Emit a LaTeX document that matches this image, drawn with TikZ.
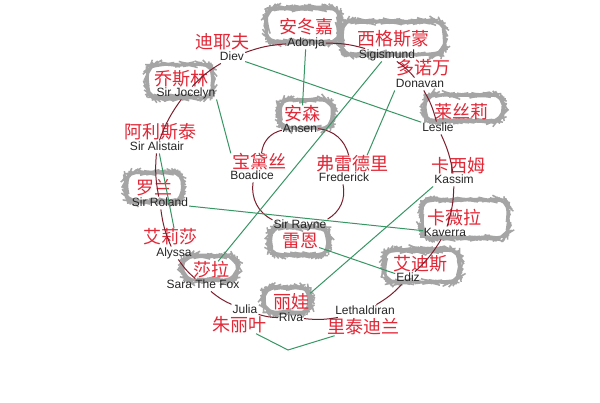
\documentclass[tikz,border=0pt]{standalone}
\usepackage{fontspec}
\setmainfont{Liberation Sans}
\newfontfamily\zhfont{Noto Sans CJK SC}
\usetikzlibrary{decorations.pathmorphing}

\definecolor{ringred}{RGB}{125,30,45}
\definecolor{linkgreen}{RGB}{55,150,100}
\definecolor{namered}{RGB}{225,40,55}
\definecolor{cloudgray}{RGB}{165,165,165}

\tikzset{
  en/.style={inner sep=1pt, text height=8.5pt, text depth=2pt,
    font=\fontsize{12}{12}\selectfont, text=black!85},
  zh/.style={inner sep=1pt, text height=14pt, text depth=1pt,
    font=\zhfont\fontsize{18}{18}\selectfont, text=namered},
  cloudy/.style={draw=cloudgray, line width=1.5pt, inner sep=0pt,
    rounded corners=11pt, decorate,
    decoration={random steps, segment length=2pt, amplitude=0.4pt}},
  ring/.style={ringred, line width=1pt},
  link/.style={linkgreen, line width=1pt},
}

\begin{document}
\begin{tikzpicture}[x=1pt, y=-1pt]
      \useasboundingbox[fill=white] (0,0) rectangle (600,403);

      % clouds round some of the chinese names
      \node[cloudy, minimum width=73, minimum height=34] (adonja-cloud) at (303,25) {};
      \node[cloudy, minimum width=103, minimum height=33] (sigismund-cloud) at (393,38) {};
      \node[cloudy, minimum width=78, minimum height=26] (leslie-cloud) at (464,108) {};
      \node[cloudy, minimum width=86, minimum height=38] (kaverra-cloud) at (465,219) {};
      \node[cloudy, minimum width=75, minimum height=32] (ediz-cloud) at (422,266) {};
      \node[cloudy, minimum width=46, minimum height=25] (riva-cloud) at (287,300) {};
      \node[cloudy, minimum width=54, minimum height=24] (sara-cloud) at (210,268) {};
      \node[cloudy, minimum width=56, minimum height=29] (roland-cloud) at (154,187) {};
      \node[cloudy, minimum width=65, minimum height=33] (jocelyn-cloud) at (180,81) {};
      \node[cloudy, minimum width=53, minimum height=28] (ansen-cloud) at (306,114) {};
      \node[cloudy, minimum width=58, minimum height=28] (rayne-cloud) at (299,241) {};

      % outer ring, english names
      \node[en] (diev) at (232,57) {Diev};
      \node[en] (adonja) at (306,43) {Adonja};
      \node[en] (sigismund) at (387,55) {Sigismund};
      \node[en] (donavan) at (420,84) {Donavan};
      \node[en] (leslie) at (438,128) {Leslie};
      \node[en] (kassim) at (454,180) {Kassim};
      \node[en] (kaverra) at (445,233) {Kaverra};
      \node[en] (ediz) at (408,278) {Ediz};
      \node[en] (lethaldiran) at (365,311) {Lethaldiran};
      \node[en] (riva) at (291,318) {Riva};
      \node[en] (julia) at (245,310) {Julia};
      \node[en] (sara) at (203,285) {Sara The Fox};
      \node[en] (alyssa) at (174,253) {Alyssa};
      \node[en] (roland) at (160,203) {Sir Roland};
      \node[en] (alistair) at (157,147) {Sir Alistair};
      \node[en] (jocelyn) at (186,93) {Sir Jocelyn};

      % inner circle, english names
      \node[en] (ansen) at (300,129) {Ansen};
      \node[en] (boadice) at (252,176) {Boadice};
      \node[en] (frederick) at (344,178) {Frederick};
      \node[en] (rayne) at (300,225) {Sir Rayne};

      % chinese names
      \node[zh] (diev-zh) at (222,42) {迪耶夫};
      \node[zh] (adonja-zh) at (306,27) {安冬嘉};
      \node[zh] (sigismund-zh) at (393,39) {西格斯蒙};
      \node[zh] (donavan-zh) at (423,68) {多诺万};
      \node[zh] (leslie-zh) at (461,112) {莱丝莉};
      \node[zh] (kassim-zh) at (458,166) {卡西姆};
      \node[zh] (kaverra-zh) at (454,218) {卡薇拉};
      \node[zh] (ediz-zh) at (420,264) {艾迪斯};
      \node[zh] (lethaldiran-zh) at (363,327) {里泰迪兰};
      \node[zh] (riva-zh) at (291,302) {丽娃};
      \node[zh] (julia-zh) at (239,325) {朱丽叶};
      \node[zh] (sara-zh) at (211,270) {莎拉};
      \node[zh] (alyssa-zh) at (170,237) {艾莉莎};
      \node[zh] (roland-zh) at (154,188) {罗兰};
      \node[zh] (alistair-zh) at (160,132) {阿利斯泰};
      \node[zh] (jocelyn-zh) at (181,79) {乔斯林};
      \node[zh] (ansen-zh) at (302,114) {安森};
      \node[zh] (boadice-zh) at (259,162) {宝黛丝};
      \node[zh] (frederick-zh) at (352,164) {弗雷德里};
      \node[zh] (rayne-zh) at (300,241) {雷恩};

      % red rings
      \foreach \a/\b in {diev/adonja, adonja/sigismund, sigismund/donavan,
        donavan/leslie, leslie/kassim, kassim/kaverra, kaverra/ediz,
        ediz/lethaldiran, lethaldiran/riva, riva/julia, julia/sara,
        sara/alyssa, alyssa/roland, roland/alistair, alistair/jocelyn,
        jocelyn/diev}
      \draw[ring] (\a) to[bend left=8] (\b);

      \draw[ring] (ansen) to[bend left=35] (frederick-zh);
      \draw[ring] (frederick) to[bend left=35] (rayne);
      \draw[ring] (rayne) to[bend left=35] (boadice);
      \draw[ring] (boadice-zh) to[bend left=35] (ansen);

      % green links
      \coordinate (vtip) at (288,350);
      \draw[link] (diev) -- (leslie);
      \draw[link] (adonja) -- (ansen-zh);
      \draw[link] (sigismund) -- (sara-zh);
      \draw[link] (donavan.south west) -- (frederick-zh.30);
      \draw[link] (jocelyn.south east) -- (boadice-zh.north west);
      \draw[link] (alistair.-70) -- (alyssa-zh.65);
      \draw[link] (roland) -- (kaverra);
      \draw[link] (kassim.south west) -- (riva-zh.north east);
      \draw[link] (rayne-zh) -- (ediz);
      \draw[link] (julia-zh) -- (vtip) -- (lethaldiran-zh);
    \end{tikzpicture}
\end{document}
